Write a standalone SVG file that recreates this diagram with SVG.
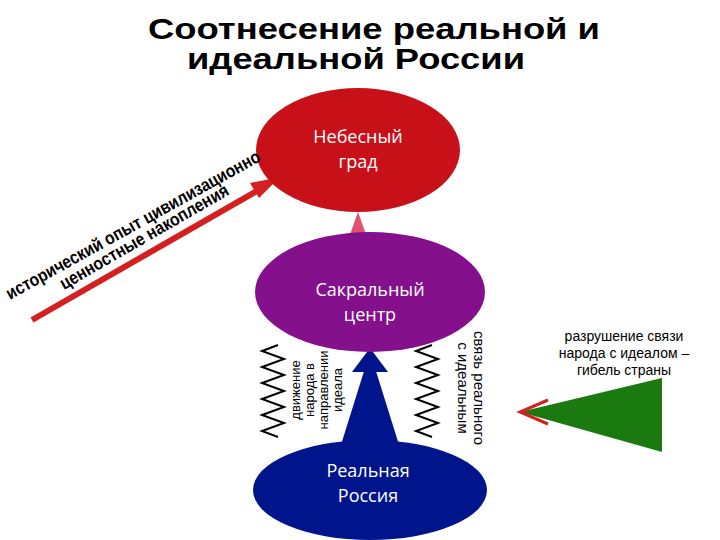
<svg xmlns="http://www.w3.org/2000/svg" width="720" height="540" viewBox="0 0 720 540">
<style>
.t{font-family:"Liberation Sans",Arial,sans-serif;fill:#000}
.w{font-family:"Open Sans","DejaVu Sans",sans-serif;fill:#fff;font-size:18px;text-anchor:middle}
.z{fill:none;stroke:#000;stroke-width:2}
</style>
<rect width="720" height="540" fill="#fff"/>
<text class="t" x="148" y="39" font-size="30" font-weight="bold" textLength="452" lengthAdjust="spacingAndGlyphs">Соотнесение реальной и</text>
<text class="t" x="187" y="69" font-size="30" font-weight="bold" textLength="338" lengthAdjust="spacingAndGlyphs">идеальной России</text>
<g id="connectors">
<line x1="32" y1="320" x2="262" y2="188" stroke="#d42020" stroke-width="6"/>
<polygon points="280,177 250,183 259,198" fill="#d42020"/>
<polygon points="358,212 348,240 368,240" fill="#e05070"/>
<polygon points="370,352 340,448 400,448" fill="#00148c"/>
<polygon points="370,348 352,372 388,372" fill="#00148c"/>
<polygon points="520,412 662,378 662,452" fill="#1a7a10"/>
<polyline points="548,400 520,412 548,424" fill="none" stroke="#d42020" stroke-width="3"/>
<path class="z" d="M278 345 l-16 6 l22 8 l-22 8 l22 8 l-22 8 l22 8 l-22 8 l22 8 l-22 8 l22 8 l-22 8 l16 6"/>
<path class="z" d="M432 345 l-16 6 l22 8 l-22 8 l22 8 l-22 8 l22 8 l-22 8 l22 8 l-22 8 l22 8 l-22 8 l16 6"/>
</g>
<g id="ideal"><ellipse cx="358" cy="150" rx="102" ry="62" fill="#c81018"/>
<text class="w" x="358" y="143">Небесный</text><text class="w" x="358" y="168">град</text></g>
<g id="sacral"><ellipse cx="370" cy="292" rx="115" ry="60" fill="#84108c"/>
<text class="w" x="370" y="296">Сакральный</text><text class="w" x="370" y="321">центр</text></g>
<g id="real"><ellipse cx="370" cy="490" rx="117" ry="50" fill="#00148c"/>
<text class="w" x="368" y="477">Реальная</text><text class="w" x="368" y="502">Россия</text></g>
<g id="labels">
<text class="t" font-size="18" font-weight="bold" transform="translate(10,300) rotate(-29)" textLength="288" lengthAdjust="spacingAndGlyphs">исторический опыт цивилизационно</text>
<text class="t" font-size="18" font-weight="bold" transform="translate(64,290) rotate(-30)" textLength="192" lengthAdjust="spacingAndGlyphs">ценностные накопления</text>
<g transform="translate(318,390) rotate(-90)" class="t" font-size="13" text-anchor="middle">
<text x="0" y="-18">движение</text><text x="0" y="-4">народа в</text><text x="0" y="10">направлении</text><text x="0" y="24">идеала</text></g>
<g transform="translate(470,388) rotate(90)" class="t" font-size="15" text-anchor="middle">
<text x="0" y="-4">связь реального</text><text x="0" y="12">с идеальным</text></g>
<g class="t" font-size="14" text-anchor="middle"><text x="624" y="341">разрушение связи</text><text x="624" y="358">народа с идеалом –</text><text x="624" y="375">гибель страны</text></g>
</g>
</svg>
